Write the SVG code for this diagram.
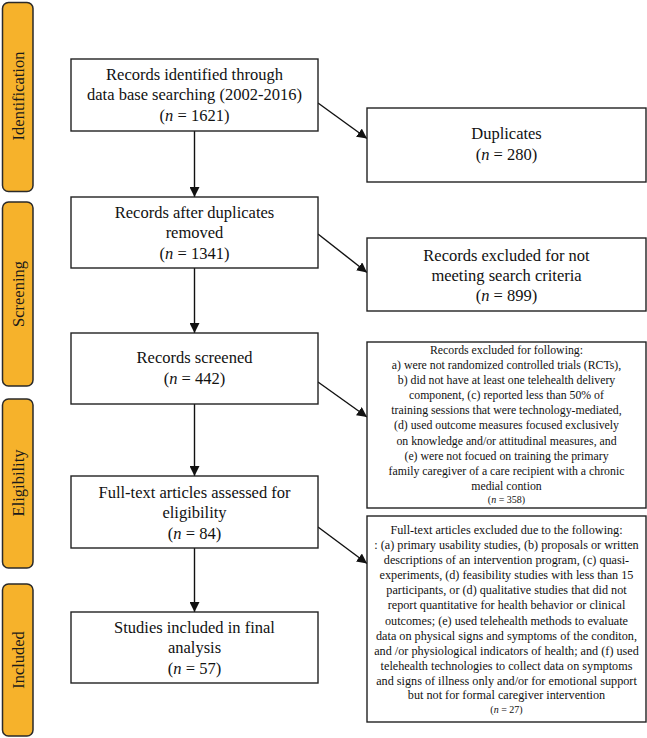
<svg xmlns="http://www.w3.org/2000/svg" width="647" height="738" viewBox="0 0 647 738">
<style>
.bar{fill:#F6B22B;stroke:#2a2a2a;stroke-width:1.5}
.lbl{font-family:"Liberation Serif",serif;font-size:16.5px;fill:#1a1a1a;text-anchor:middle}
.box{fill:#fff;stroke:#222;stroke-width:1.4}
.t{font-family:"Liberation Serif",serif;font-size:16.5px;fill:#111;text-anchor:middle}
.s{font-family:"Liberation Serif",serif;font-size:11.8px;fill:#111;text-anchor:middle}
.s2{font-size:12.2px}
.sn{font-size:10px}
.i{font-style:italic}
.c{stroke:#111;stroke-width:1.4;fill:none}
</style>
<defs>
<marker id="ah" viewBox="0 0 10 10" refX="10" refY="5" markerWidth="10" markerHeight="10" markerUnits="userSpaceOnUse" orient="auto">
<path d="M0,0 L10,5 L0,10 Z" fill="#111"/>
</marker>
</defs>

<g id="phase-identification">
<rect class="bar" x="2.5" y="2.5" width="30.5" height="189" rx="6"/>
<text class="lbl" transform="translate(18,96) rotate(-90)" dy="0.35em">Identification</text>
</g>
<g id="phase-screening">
<rect class="bar" x="2.5" y="202" width="30.5" height="184" rx="6"/>
<text class="lbl" transform="translate(18,294) rotate(-90)" dy="0.35em">Screening</text>
</g>
<g id="phase-eligibility">
<rect class="bar" x="2.5" y="399" width="30.5" height="169" rx="6"/>
<text class="lbl" transform="translate(18,483) rotate(-90)" dy="0.35em">Eligibility</text>
</g>
<g id="phase-included">
<rect class="bar" x="2.5" y="584" width="30.5" height="152" rx="6"/>
<text class="lbl" transform="translate(18,660) rotate(-90)" dy="0.35em">Included</text>
</g>

<g id="connectors">
<line class="c" x1="194.5" y1="131" x2="194.5" y2="197" marker-end="url(#ah)"/>
<line class="c" x1="194.5" y1="268" x2="194.5" y2="333" marker-end="url(#ah)"/>
<line class="c" x1="194.5" y1="404" x2="194.5" y2="476" marker-end="url(#ah)"/>
<line class="c" x1="194.5" y1="548" x2="194.5" y2="612" marker-end="url(#ah)"/>
<line class="c" x1="318" y1="103" x2="367" y2="138.5" marker-end="url(#ah)"/>
<line class="c" x1="318" y1="234" x2="367" y2="272.5" marker-end="url(#ah)"/>
<line class="c" x1="318" y1="382" x2="367" y2="417" marker-end="url(#ah)"/>
<line class="c" x1="318" y1="527" x2="367" y2="563.5" marker-end="url(#ah)"/>
</g>

<g id="records-identified">
<rect class="box" x="71" y="59" width="247" height="72"/>
<text class="t" x="194.5" y="79.5">Records identified through</text>
<text class="t" x="194.5" y="100">data base searching (2002-2016)</text>
<text class="t" x="194.5" y="120.5">(<tspan class="i">n</tspan> = 1621)</text>
</g>
<g id="records-after-duplicates">
<rect class="box" x="71" y="197" width="247" height="71"/>
<text class="t" x="194.5" y="217.5">Records after duplicates</text>
<text class="t" x="194.5" y="238">removed</text>
<text class="t" x="194.5" y="258.5">(<tspan class="i">n</tspan> = 1341)</text>
</g>
<g id="records-screened">
<rect class="box" x="71" y="333" width="247" height="71"/>
<text class="t" x="194.5" y="363">Records screened</text>
<text class="t" x="194.5" y="384">(<tspan class="i">n</tspan> = 442)</text>
</g>
<g id="full-text-assessed">
<rect class="box" x="71" y="476" width="247" height="72"/>
<text class="t" x="194.5" y="497.5">Full-text articles assessed for</text>
<text class="t" x="194.5" y="518">eligibility</text>
<text class="t" x="194.5" y="538.5">(<tspan class="i">n</tspan> = 84)</text>
</g>
<g id="studies-included">
<rect class="box" x="71" y="612" width="247" height="71"/>
<text class="t" x="194.5" y="632.5">Studies included in final</text>
<text class="t" x="194.5" y="653">analysis</text>
<text class="t" x="194.5" y="673.5">(<tspan class="i">n</tspan> = 57)</text>
</g>

<g id="duplicates">
<rect class="box" x="367" y="108" width="279" height="74"/>
<text class="t" x="506.5" y="139">Duplicates</text>
<text class="t" x="506.5" y="160">(<tspan class="i">n</tspan> = 280)</text>
</g>
<g id="excluded-search-criteria">
<rect class="box" x="367" y="238" width="279" height="73"/>
<text class="t" x="506.5" y="261">Records excluded for not</text>
<text class="t" x="506.5" y="281">meeting search criteria</text>
<text class="t" x="506.5" y="301">(<tspan class="i">n</tspan> = 899)</text>
</g>
<g id="excluded-following">
<rect class="box" x="367" y="342" width="279" height="166"/>
<text class="s" x="506.5" y="354">Records excluded for following:</text>
<text class="s" x="506.5" y="369">a) were not randomized controlled trials (RCTs),</text>
<text class="s" x="506.5" y="384">b) did not have at least one telehealth delivery</text>
<text class="s" x="506.5" y="399.2">component, (c) reported less than 50% of</text>
<text class="s" x="506.5" y="414.3">training sessions that were technology-mediated,</text>
<text class="s" x="506.5" y="429.4">(d) used outcome measures focused exclusively</text>
<text class="s" x="506.5" y="444.5">on knowledge and/or attitudinal measures, and</text>
<text class="s" x="506.5" y="459.6">(e) were not focued on training the primary</text>
<text class="s" x="506.5" y="474.7">family caregiver of a care recipient with a chronic</text>
<text class="s" x="506.5" y="490">medial contion</text>
<text class="s sn" x="506.5" y="503">(<tspan class="i">n</tspan> = 358)</text>
</g>
<g id="full-text-excluded">
<rect class="box" x="367" y="516" width="279" height="206"/>
<text class="s s2" x="506.5" y="534">Full-text articles excluded due to the following:</text>
<text class="s s2" x="506.5" y="549">: (a) primary usability studies, (b) proposals or written</text>
<text class="s s2" x="506.5" y="564">descriptions of an intervention program, (c) quasi-</text>
<text class="s s2" x="506.5" y="579">experiments, (d) feasibility studies with less than 15</text>
<text class="s s2" x="506.5" y="594">participants, or (d) qualitative studies that did not</text>
<text class="s s2" x="506.5" y="609">report quantitative for health behavior or clinical</text>
<text class="s s2" x="506.5" y="624.5">outcomes; (e) used telehealth methods to evaluate</text>
<text class="s s2" x="506.5" y="639.5">data on physical signs and symptoms of the conditon,</text>
<text class="s s2" x="506.5" y="654.5">and /or physiological indicators of health; and (f) used</text>
<text class="s s2" x="506.5" y="669.5">telehealth technologies to collect data on symptoms</text>
<text class="s s2" x="506.5" y="684.5">and signs of illness only and/or for emotional support</text>
<text class="s s2" x="506.5" y="699">but not for formal caregiver intervention</text>
<text class="s sn" x="506.5" y="713">(<tspan class="i">n</tspan> = 27)</text>
</g>
</svg>
